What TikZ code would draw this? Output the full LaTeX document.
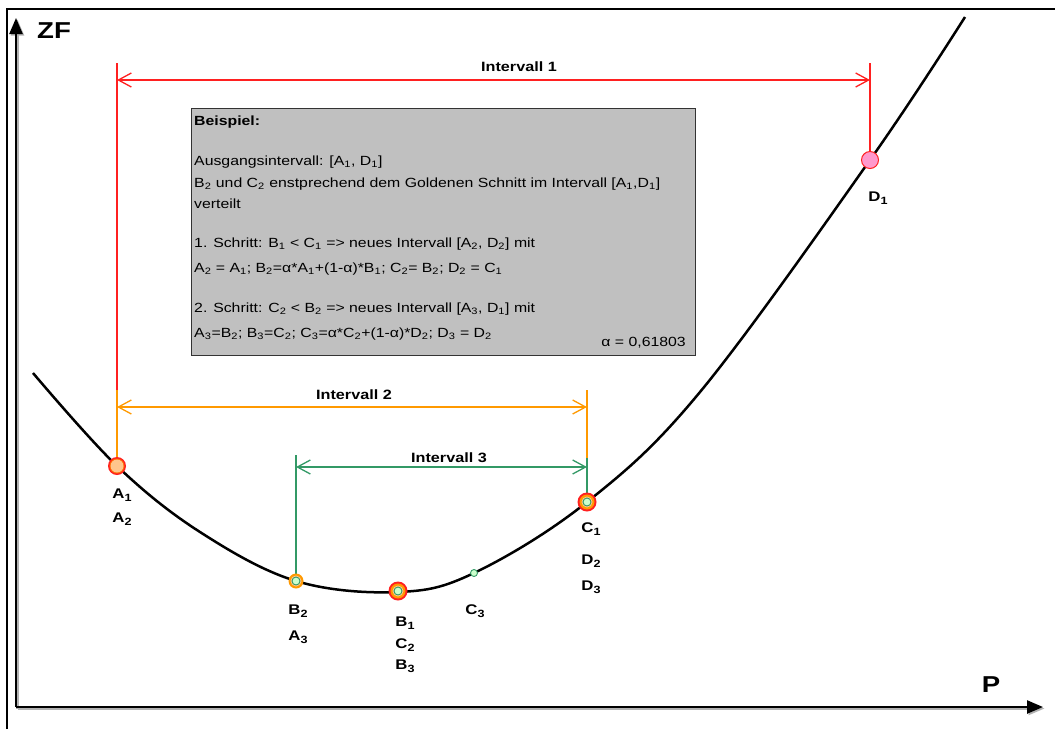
\documentclass[tikz,border=0pt]{standalone}
\usepackage{fontspec}
\setmainfont{Liberation Sans}
\usetikzlibrary{arrows.meta}
\definecolor{ivred}{HTML}{FF2020}
\definecolor{ivorange}{HTML}{FF9900}
\definecolor{ivgreen}{HTML}{339966}
\definecolor{lgreen}{HTML}{CCFFCC}
\definecolor{peach}{HTML}{FFC68C}
\definecolor{pinkfill}{HTML}{FF99CC}
\definecolor{boxgray}{HTML}{C0C0C0}
\newcommand\subsc[1]{\textsubscript{#1}}
\newcommand\hbx[1]{\scalebox{1.19}[1]{#1}}
\newcommand\hlb[1]{\scalebox{1.2}[1]{#1}}
\newcommand\lsub[1]{\raisebox{-3pt}{\fontsize{10.5}{11}\selectfont #1}}
\begin{document}
\begin{tikzpicture}[x=1pt,y=-1pt,
  lbl/.style={font=\bfseries\fontsize{14}{15}\selectfont, inner sep=0, anchor=base},
  boxtxt/.style={font=\fontsize{13.3}{16}\selectfont, anchor=base west, inner sep=0},
  ivtxt/.style={font=\bfseries\fontsize{13.5}{15}\selectfont, inner sep=0, anchor=base},
  dimline/.style={{Straight Barb[length=13pt,width=14pt]}-{Straight Barb[length=13pt,width=14pt]}, line width=1.3pt},
  vline/.style={line width=1.3pt},
  axis/.style={line width=2.4pt, -{Triangle[length=16pt,width=13pt]}},
  axshadow/.style={line width=2.4pt, gray!60, -{Triangle[length=16pt,width=13pt]}},
  dot/.style={circle, inner sep=0, minimum size=#1},
]
\useasboundingbox (0,0) rectangle (1055,729);

% frame
\draw[line width=1.5pt] (7,729) -- (7,9) -- (1055,9);

% axes
\coordinate (O) at (16,707);
\coordinate (Ytip) at (16,18);
\coordinate (Xtip) at (1043,707);
\draw[axshadow] ([shift={(1.5,1.5)}]O) -- ([shift={(1.5,1.5)}]Ytip);
\draw[axshadow] ([shift={(1.5,1.5)}]O) -- ([shift={(1.5,1.5)}]Xtip);
\draw[axis] (O) -- (Ytip);
\draw[axis] (O) -- (Xtip);
\node[font=\bfseries\fontsize{23}{25}\selectfont, inner sep=0, anchor=base] (zf) at (54,38) {\hlb{ZF}};
\node[font=\bfseries\fontsize{23}{25}\selectfont, inner sep=0, anchor=base] (p) at (991,692) {\hlb{P}};

% gray box
\draw[fill=boxgray, draw=gray!40!black, line width=1pt] (191,108) rectangle (695,355);
\node[boxtxt, font=\bfseries\fontsize{13.3}{16}\selectfont] (t0) at (194,125) {\hbx{Beispiel:}};
\node[boxtxt] (t1) at (194,165) {\hbx{Ausgangsintervall: [A\subsc{1}, D\subsc{1}]}};
\node[boxtxt] (t2) at (194,187) {\hbx{B\subsc{2} und C\subsc{2} enstprechend dem Goldenen Schnitt im Intervall [A\subsc{1},D\subsc{1}]}};
\node[boxtxt] (t3) at (194,208) {\hbx{verteilt}};
\node[boxtxt] (t4) at (194,247) {\hbx{1. Schritt: B\subsc{1} < C\subsc{1} => neues Intervall [A\subsc{2}, D\subsc{2}] mit}};
\node[boxtxt] (t5) at (194,272) {\hbx{A\subsc{2} = A\subsc{1}; B\subsc{2}=α*A\subsc{1}+(1-α)*B\subsc{1}; C\subsc{2}= B\subsc{2}; D\subsc{2} = C\subsc{1}}};
\node[boxtxt] (t6) at (194,312) {\hbx{2. Schritt: C\subsc{2} < B\subsc{2} => neues Intervall [A\subsc{3}, D\subsc{1}] mit}};
\node[boxtxt] (t7) at (194,337) {\hbx{A\subsc{3}=B\subsc{2}; B\subsc{3}=C\subsc{2}; C\subsc{3}=α*C\subsc{2}+(1-α)*D\subsc{2}; D\subsc{3} = D\subsc{2}}};
\node[boxtxt, anchor=base east] (t8) at (686,346) {\hbx{α = 0,61803}};

% curve
\draw[line width=2.5pt] plot[smooth, tension=0.6] coordinates {(33,373) (117,466) (200,532) (296,581) (398,592) (474,573) (587,502) (700,392) (870,160) (965,17)};

% point positions
\coordinate (A1) at (117,466);
\coordinate (B2) at (296,581);
\coordinate (B1) at (398,591);
\coordinate (C3) at (474,573);
\coordinate (C1) at (587,502);
\coordinate (D1) at (870,160);

% interval 1 (red)
\coordinate (r1top) at (117,63);
\coordinate (r2top) at (870,63);
\coordinate (r1end) at (117,80);
\coordinate (r2end) at (870,80);
\coordinate (oL) at (117,390);
\draw[vline, ivred] (r1top) -- (oL);
\draw[vline, ivred] (r2top) -- (D1);
\draw[dimline, ivred] (r1end) -- (r2end);
\node[ivtxt] (iv1) at (519,71) {\hlb{Intervall 1}};

% interval 2 (orange)
\coordinate (o1) at (117,407);
\coordinate (o2) at (587,407);
\coordinate (oRtop) at (587,390);
\coordinate (gR) at (587,458);
\draw[vline, ivorange] (oL) -- (A1);
\draw[vline, ivorange] (oRtop) -- (gR);
\draw[dimline, ivorange] (o1) -- (o2);
\node[ivtxt] (iv2) at (354,399) {\hlb{Intervall 2}};

% interval 3 (green)
\coordinate (gLtop) at (296,455);
\coordinate (g1) at (296,467);
\coordinate (g2) at (587,467);
\draw[vline, ivgreen] (gLtop) -- (B2);
\draw[vline, ivgreen] (gR) -- (C1);
\draw[dimline, ivgreen] (g1) -- (g2);
\node[ivtxt] (iv3) at (449,462) {\hlb{Intervall 3}};

% markers
\node[dot=18pt, fill=ivred] (mA1o) at (A1) {};
\node[dot=15pt, fill=ivorange!70!red] (mA1m) at (A1) {};
\node[dot=13pt, fill=peach] (mA1) at (A1) {};

\node[dot=15pt, fill=ivorange] (mB2o) at (B2) {};
\node[dot=11pt, fill=peach] (mB2m) at (B2) {};
\node[dot=8pt, fill=lgreen, draw=ivgreen, line width=0.9pt] (mB2) at (B2) {};

\node[dot=19pt, fill=ivred] (mB1o) at (B1) {};
\node[dot=15pt, fill=ivorange] (mB1m) at (B1) {};
\node[dot=11pt, fill=peach] (mB1p) at (B1) {};
\node[dot=8pt, fill=lgreen, draw=ivgreen, line width=0.9pt] (mB1) at (B1) {};

\node[dot=7pt, fill=lgreen, draw=ivgreen, line width=0.9pt] (mC3) at (C3) {};

\node[dot=19pt, fill=ivred] (mC1o) at (C1) {};
\node[dot=15pt, fill=ivorange] (mC1m) at (C1) {};
\node[dot=11pt, fill=peach] (mC1p) at (C1) {};
\node[dot=8pt, fill=lgreen, draw=ivgreen, line width=0.9pt] (mC1) at (C1) {};

\node[dot=17pt, fill=pinkfill, draw=ivred, line width=1pt] (mD1) at (D1) {};

% point labels
\node[lbl] (lA1) at (122,498) {\hlb{A\lsub{1}}};
\node[lbl] (lA2) at (122,522) {\hlb{A\lsub{2}}};
\node[lbl] (lB2) at (298,614) {\hlb{B\lsub{2}}};
\node[lbl] (lA3) at (298,640) {\hlb{A\lsub{3}}};
\node[lbl] (lB1) at (405,626) {\hlb{B\lsub{1}}};
\node[lbl] (lC2) at (405,648) {\hlb{C\lsub{2}}};
\node[lbl] (lB3) at (405,669) {\hlb{B\lsub{3}}};
\node[lbl] (lC3) at (475,614) {\hlb{C\lsub{3}}};
\node[lbl] (lC1) at (591,532) {\hlb{C\lsub{1}}};
\node[lbl] (lD2) at (591,564) {\hlb{D\lsub{2}}};
\node[lbl] (lD3) at (591,590) {\hlb{D\lsub{3}}};
\node[lbl] (lD1) at (878,201) {\hlb{D\lsub{1}}};
\end{tikzpicture}
\end{document}
